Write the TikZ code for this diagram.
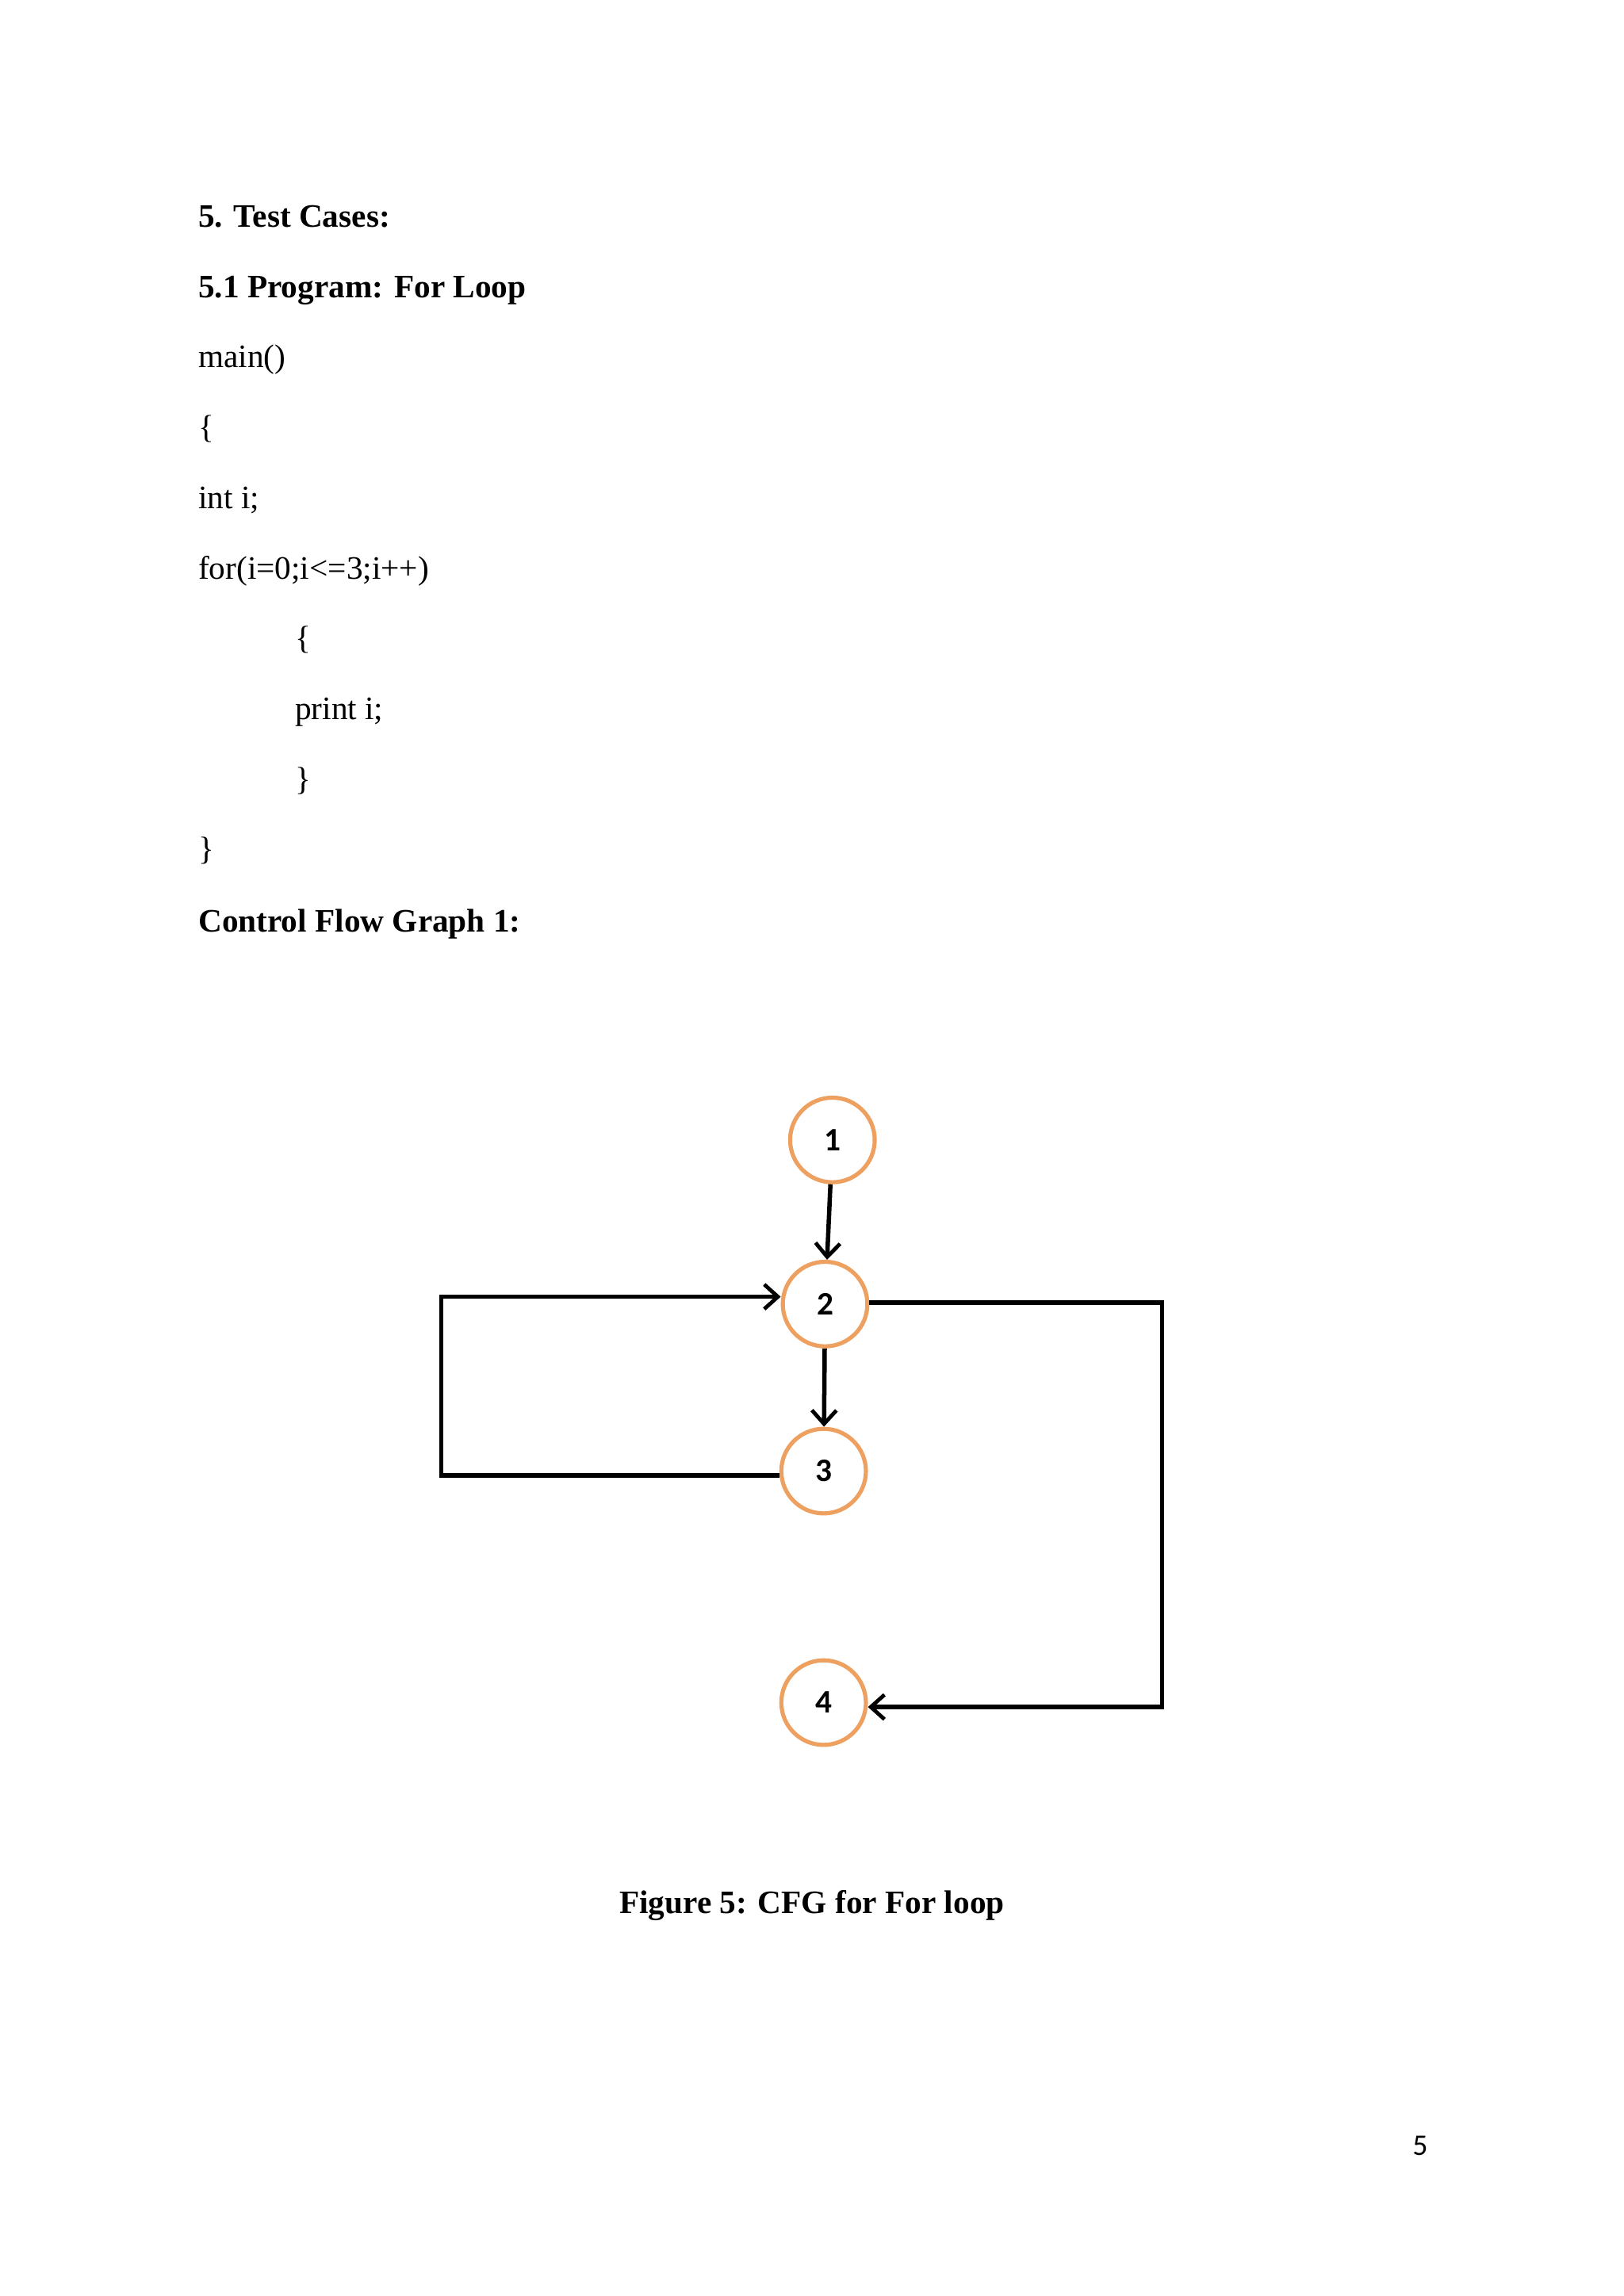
\documentclass[tikz,border=0pt]{standalone}
\usepackage{fontspec}
\setmainfont{Liberation Serif}
\newfontfamily\numfont{Carlito}
\usetikzlibrary{arrows.meta}
\definecolor{orng}{RGB}{237,160,95}
\begin{document}
\begin{tikzpicture}[x=0.537pt,y=-0.537pt,
  txt/.style={anchor=base west,inner sep=0pt,font=\fontsize{12}{14}\selectfont},
  btxt/.style={txt,font=\fontsize{12}{14}\selectfont\bfseries},
  cnode/.style={circle,draw=orng,line width=1.5pt,minimum size=31pt,inner sep=0pt,font=\numfont\bfseries\fontsize{12}{14}\selectfont},
  edge/.style={line width=1.6pt,-{Straight Barb[length=5pt,width=9pt,line width=1.4pt]}},
  line/.style={line width=1.6pt}]
\useasboundingbox (0,0) rectangle (1108,1567);
\node[btxt] (t1) at (135,155) {5. Test Cases:};
\node[btxt] (t2) at (135,203) {5.1 Program: For Loop};
\node[txt] (c1) at (135,251) {main()};
\node[txt] (c2) at (135,299) {\{};
\node[txt] (c3) at (135,347) {int i;};
\node[txt] (c4) at (135,395) {for(i=0;i<=3;i++)};
\node[txt] (c5) at (201,443) {\{};
\node[txt] (c6) at (201,491) {print i;};
\node[txt] (c7) at (201,539) {\}};
\node[txt] (c8) at (135,587) {\}};
\node[btxt] (t3) at (135,636) {Control Flow Graph 1:};
\node[cnode] (n1) at (568,778) {1};
\node[cnode] (n2) at (563,890) {2};
\node[cnode] (n3) at (562,1004) {3};
\node[cnode] (n4) at (562,1162) {4};
\draw[edge] (n1) -- (n2);
\draw[edge] (n2) -- (n3);
\coordinate (a1) at (301,1007);
\coordinate (a2) at (301,885);
\draw[edge] (n3.west |- 0,1007) -- (a1) -- (a2) -- (n2.west |- 0,885);
\coordinate (b1) at (793,889);
\coordinate (b2) at (793,1165);
\draw[edge] (n2.east |- 0,889) -- (b1) -- (b2) -- (n4.east |- 0,1165);
\node[anchor=base,inner sep=0pt,font=\fontsize{12}{14}\selectfont\bfseries] (cap) at (554,1306) {Figure 5: CFG for For loop};
\node[anchor=base,inner sep=0pt,font=\numfont\fontsize{11}{13}\selectfont] (pg) at (969,1471) {5};
\end{tikzpicture}
\end{document}
